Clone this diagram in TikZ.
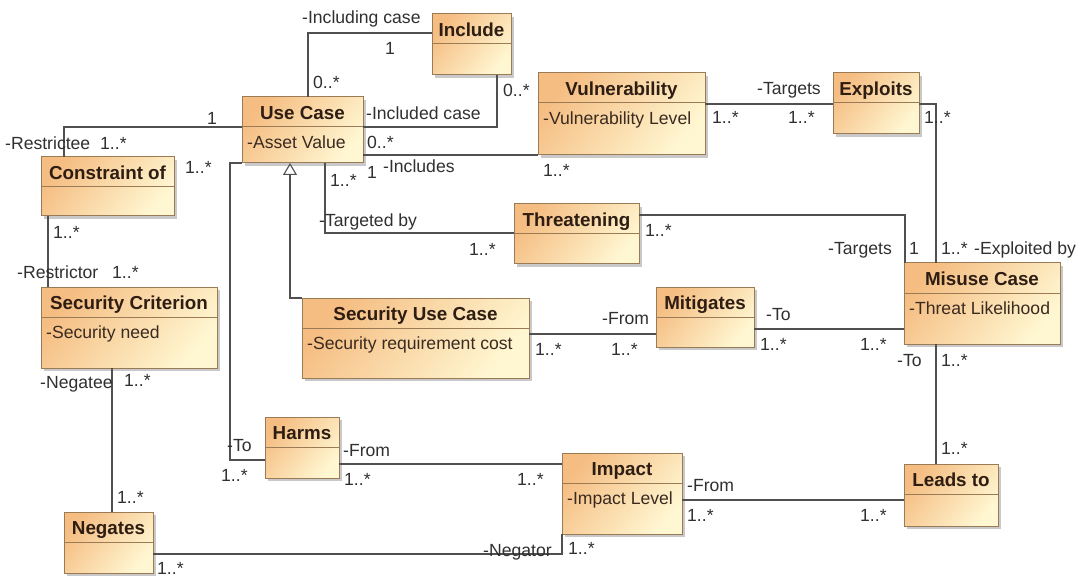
\documentclass[tikz,border=0pt]{standalone}
\usepackage{fontspec}
\setmainfont{Liberation Sans}
\usetikzlibrary{calc,shadows,arrows.meta}
\definecolor{boxA}{HTML}{F5BD82}
\definecolor{boxB}{HTML}{FFF7D2}
\definecolor{boxedge}{HTML}{9A7B55}
\definecolor{ttlcol}{HTML}{2E1D12}
\definecolor{attrcol}{HTML}{3A2A20}
\definecolor{lblcol}{HTML}{303030}
\definecolor{linecol}{HTML}{505050}
\tikzset{
  cls/.style={draw=boxedge, line width=1pt, top color=boxA, bottom color=boxB, shading angle=50,
    inner sep=0pt, outer sep=0pt,
    drop shadow={shadow xshift=3pt, shadow yshift=-3pt, opacity=0.35, fill=black!60}},
  sepline/.style={draw=boxedge, line width=1pt},
  ttl/.style={font=\bfseries\fontsize{18.8}{19}\selectfont, text=ttlcol, inner sep=0pt, text height=13.5pt, text depth=0pt},
  attr/.style={font=\fontsize{17.6}{18}\selectfont, text=attrcol, inner sep=0pt, anchor=west, text height=12.5pt, text depth=0pt},
  conn/.style={draw=linecol, line width=1.1pt},
  gen/.style={conn, -{Triangle[open, width=14pt, length=12pt, fill=white]}},
  lbl/.style={font=\fontsize{17.6}{18}\selectfont, text=lblcol, inner sep=0pt, anchor=west, text height=12.5pt, text depth=0pt},
}
\newcommand\umlbox[7]{%
  \node[cls, minimum width=#4pt, minimum height=#5pt, anchor=north west] (#1) at (#2,#3) {};
  \draw[sepline] ($(#1.north west)+(0,30)$) -- ($(#1.north east)+(0,30)$);
  \node[ttl] (#1-t) at ($(#1.north)+(0,15.5)$) {#6};
  \if\relax\detokenize{#7}\relax\else
    \node[attr] (#1-a) at ($(#1.north west)+(5,45)$) {#7};
  \fi
}
\begin{document}
\begin{tikzpicture}[x=1pt,y=-1pt]
\useasboundingbox[fill=white] (0,0) rectangle (1081,577);

% boxes
\umlbox{inc}{432}{14}{79}{61}{Include}{}
\umlbox{uc}{242}{97}{121}{66}{Use Case}{-Asset Value}
\umlbox{vul}{538}{73}{167}{82}{Vulnerability}{-Vulnerability Level}
\umlbox{exp}{833}{73}{86}{61}{Exploits}{}
\umlbox{con}{41}{157}{133}{59}{Constraint of}{}
\umlbox{sc}{41}{287}{176}{81}{Security Criterion}{-Security need}
\umlbox{thr}{514}{204}{125}{60}{Threatening}{}
\umlbox{suc}{302}{298}{227}{80}{Security Use Case}{-Security requirement cost}
\umlbox{mit}{656}{287}{98}{60}{Mitigates}{}
\umlbox{mis}{904}{263}{156}{81}{Misuse Case}{-Threat Likelihood}
\umlbox{harm}{265}{417}{74}{61}{Harms}{}
\umlbox{imp}{562}{453}{120}{81}{Impact}{-Impact Level}
\umlbox{lead}{904}{464}{94}{62}{Leads to}{}
\umlbox{neg}{64}{512}{89}{61}{Negates}{}

% connectors
\draw[conn] ($(uc.north west)+(66,0)$) |- ($(inc.north west)+(0,19)$);
\draw[conn] ($(inc.south west)+(65,0)$) |- ($(uc.north east)+(0,30)$);
\draw[conn] ($(uc.south east)+(0,-8)$) -- (vul.south west);
\draw[conn] ($(vul.north east)+(0,31)$) -- ($(exp.north west)+(0,31)$);
\draw[conn] ($(exp.north east)+(0,31)$) -| ($(mis.north west)+(32,0)$);
\draw[conn] ($(thr.north east)+(0,11)$) -| ($(mis.north west)+(1,0)$);
\draw[conn] ($(uc.south west)+(83,0)$) |- ($(thr.north west)+(0,29)$);
\draw[gen] (suc.north west) -| ($(uc.south west)+(48,0)$);
\draw[conn] (uc.south west) -- ++(-12,0) |- ($(harm.north west)+(0,43)$);
\draw[conn] ($(uc.north west)+(0,30)$) -| ($(con.north west)+(23,0)$);
\draw[conn] ($(con.south west)+(7,0)$) -- ($(sc.north west)+(7,0)$);
\draw[conn] ($(sc.south west)+(71,0)$) -- ($(neg.north west)+(48,0)$);
\draw[conn] ($(neg.south east)+(0,-19)$) -| (imp.south west);
\draw[conn] ($(harm.north east)+(0,47)$) -- ($(imp.north west)+(0,11)$);
\draw[conn] ($(imp.north east)+(0,47)$) -- ($(lead.north west)+(0,36)$);
\draw[conn] ($(mis.south west)+(32,0)$) -- ($(lead.north west)+(32,0)$);
\draw[conn] ($(suc.north east)+(0,36)$) -- ($(mit.north west)+(0,47)$);
\draw[conn] ($(mit.north east)+(0,42)$) -- ($(mis.north west)+(0,66)$);

% labels
\node[lbl] (l1) at (302,17) {-Including case};
\node[lbl] (l2) at (385,48) {1};
\node[lbl] (l3) at (313,82) {0..*};
\node[lbl] (l4) at (366,113) {-Included case};
\node[lbl] (l5) at (503,90) {0..*};
\node[lbl] (l6) at (367,142) {0..*};
\node[lbl] (l7) at (367,172) {1};
\node[lbl] (l8) at (383,166) {-Includes};
\node[lbl] (l9) at (543,170) {1..*};
\node[lbl] (l10) at (330,180) {1..*};
\node[lbl] (l11) at (757,88) {-Targets};
\node[lbl] (l12) at (712,117) {1..*};
\node[lbl] (l13) at (788,117) {1..*};
\node[lbl] (l14) at (924,117) {1..*};
\node[lbl] (l15) at (207,118) {1};
\node[lbl] (l16) at (5,143) {-Restrictee};
\node[lbl] (l17) at (100,143) {1..*};
\node[lbl] (l18) at (185,167) {1..*};
\node[lbl] (l19) at (53,232) {1..*};
\node[lbl] (l20) at (17,272) {-Restrictor};
\node[lbl] (l21) at (112,272) {1..*};
\node[lbl] (l22) at (319,220) {-Targeted by};
\node[lbl] (l23) at (469,249) {1..*};
\node[lbl] (l24) at (645,230) {1..*};
\node[lbl] (l25) at (828,248) {-Targets};
\node[lbl] (l26) at (909,248) {1};
\node[lbl] (l27) at (941,248) {1..*};
\node[lbl] (l28) at (974,248) {-Exploited by};
\node[lbl] (l29) at (602,318) {-From};
\node[lbl] (l30) at (535,349) {1..*};
\node[lbl] (l31) at (611,349) {1..*};
\node[lbl] (l32) at (766,314) {-To};
\node[lbl] (l33) at (760,344) {1..*};
\node[lbl] (l34) at (860,344) {1..*};
\node[lbl] (l35) at (897,360) {-To};
\node[lbl] (l36) at (941,360) {1..*};
\node[lbl] (l37) at (40,382) {-Negatee};
\node[lbl] (l38) at (124,380) {1..*};
\node[lbl] (l39) at (117,497) {1..*};
\node[lbl] (l40) at (227,445) {-To};
\node[lbl] (l41) at (221,475) {1..*};
\node[lbl] (l42) at (343,450) {-From};
\node[lbl] (l43) at (344,479) {1..*};
\node[lbl] (l44) at (517,479) {1..*};
\node[lbl] (l45) at (687,485) {-From};
\node[lbl] (l46) at (687,515) {1..*};
\node[lbl] (l47) at (860,515) {1..*};
\node[lbl] (l48) at (941,448) {1..*};
\node[lbl] (l49) at (483,550) {-Negator};
\node[lbl] (l50) at (568,548) {1..*};
\node[lbl] (l51) at (157,568) {1..*};
\end{tikzpicture}
\end{document}
